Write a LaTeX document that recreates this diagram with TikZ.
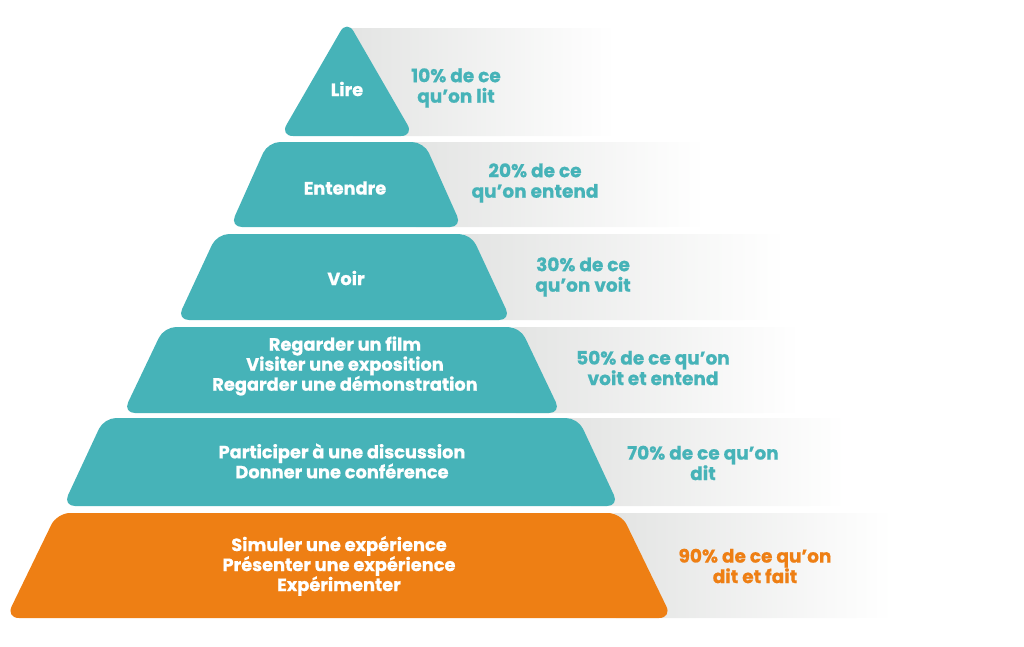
\documentclass[tikz,border=0pt]{standalone}
\usepackage{fontspec}
\setmainfont{Poppins}[BoldFeatures={FakeBold=0.7}]
\usetikzlibrary{calc}
\definecolor{sarcelle}{HTML}{46B3B8}
\definecolor{orangeexp}{HTML}{EE7F14}
\definecolor{bande}{HTML}{E3E4E3}
\def\niveau[#1](#2)(#3:#4:#5:#6){\fill[#1] ({#2-#5},#3) -- ({#2+#5},#3) -- ({#2+#6},#4) -- ({#2-#6},#4) -- cycle;}
\def\bande(#1:#2:#3:#4){\shade[left color=bande, right color=white, rounded corners=6] (#1,#2) rectangle (#3,#4);}

\begin{document}
\begin{tikzpicture}[x=1pt, y=-1pt,
		texteniveau/.style={align=center, text=white, font=\bfseries\fontsize{17.8}{20}\selectfont},
		textepct/.style={align=center, text=sarcelle, font=\bfseries\fontsize{18.5}{20.5}\selectfont}]
			%%%%% START %%%%%
			
			\useasboundingbox (0, 0) rectangle (1024, 646);
			
			\bande(347:28:615:136)
			\bande(410:142:705:227)
			\bande(460:234:785:320)
			\bande(510:327:800:413)
			\bande(565:418:845:506)
			\bande(610:513:892:618)
			
			\fill[sarcelle, rounded corners=13] (347, 20) -- (414, 136) -- (280, 136) -- cycle;
			\niveau[sarcelle, rounded corners=12](346)(142:227:78:116)
			\niveau[sarcelle, rounded corners=12](344)(234:320:127:167)
			\niveau[sarcelle, rounded corners=12](342)(327:413:178:219)
			\niveau[sarcelle, rounded corners=12](341)(418:506:237:278)
			\niveau[orangeexp, rounded corners=13](339)(513:618:282:333)
			
			\node[texteniveau] (lire) at (347, 89) {Lire};
			\node[texteniveau] (entendre) at (345, 188) {Entendre};
			\node[texteniveau] (voir) at (346, 278) {Voir};
			\node[texteniveau] (regarder) at (345, 366) {Regarder un film\\Visiter une exposition\\Regarder une démonstration};
			\node[texteniveau] (participer) at (342, 461) {Participer à une discussion\\Donner une conférence};
			\node[texteniveau] (simuler) at (339, 566) {Simuler une expérience\\Présenter une expérience\\Expérimenter};
			
			\node[textepct] (pct10) at (456, 88) {10\% de ce\\qu’on lit};
			\node[textepct] (pct20) at (535, 183) {20\% de ce\\qu’on entend};
			\node[textepct] (pct30) at (583, 277) {30\% de ce\\qu’on voit};
			\node[textepct] (pct50) at (653, 368) {50\% de ce qu’on\\voit et entend};
			\node[textepct] (pct70) at (703, 463) {70\% de ce qu’on\\dit};
			\node[textepct, text=orangeexp] (pct90) at (755, 566) {90\% de ce qu’on\\dit et fait};
			
			%%%%% END %%%%%
\end{tikzpicture}
\end{document}
